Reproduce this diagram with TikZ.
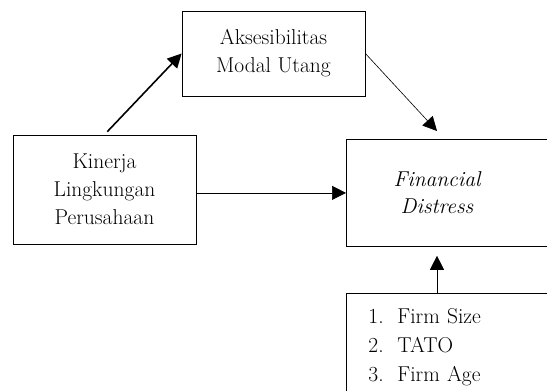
\documentclass[tikz,border=0pt]{standalone}
\usetikzlibrary{arrows.meta}
\begin{document}
\begin{tikzpicture}[x=1pt,y=-1pt,
  box/.style={draw,line width=0.8pt,align=center,inner sep=0pt,font=\fontsize{21.5}{28}\selectfont},
  arr/.style={-{Triangle[length=14pt,width=14pt]},line width=0.6pt}]
  \useasboundingbox (0,0) rectangle (547,391);
  \clip (0,0) rectangle (547,391);

  \node[box,minimum width=183pt,minimum height=85pt] (aks) at (273.5,53.5) {Aksesibilitas\\Modal Utang};
  \node[box,minimum width=183pt,minimum height=109pt] (kin) at (104.5,189.5) {Kinerja\\Lingkungan\\Perusahaan};
  \node[box,minimum width=230pt,minimum height=107pt,anchor=north west] (fd) at (346,139) {};
  \node[box,draw=none,font=\fontsize{21.5}{27}\selectfont\itshape] (fdt) at (437,192.5) {Financial\\Distress};
  \node[box,align=left,text width=190pt,inner xsep=22pt,inner ysep=15pt,anchor=north west,
        font=\fontsize{21.5}{29}\selectfont] (var) at (346,293)
    {\makebox[29pt][l]{1.}Firm Size\\\makebox[29pt][l]{2.}TATO\\\makebox[29pt][l]{3.}Firm Age};

  \path[arr,line width=1.6pt]
    (kin.north) edge[shorten <=4pt] (aks.west);
  \path[arr]
    (aks.east) edge ([yshift=8pt]fd.north -| fdt)
    (kin.east |- fd.west) edge (fd.west)
    (var.north -| fdt) edge ([yshift=-9pt]fd.south -| fdt);
\end{tikzpicture}
\end{document}
